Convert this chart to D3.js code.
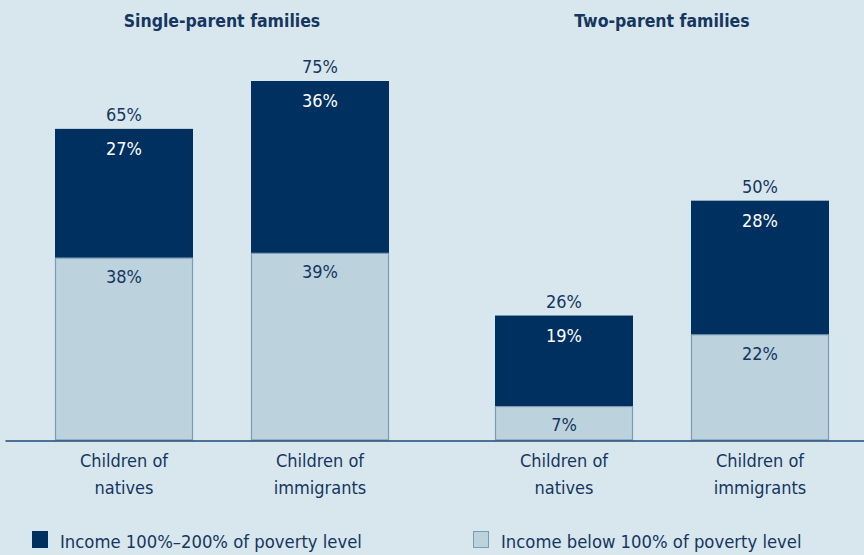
<!DOCTYPE html>
<html><head><meta charset="utf-8">
<script src="https://cdn.jsdelivr.net/npm/d3@7"></script>
<style>
html,body{margin:0;padding:0;background:#d8e6ee;}
svg{display:block;}
text{font-family:"Liberation Sans Narrow","DejaVu Sans Condensed","Roboto Condensed",sans-serif;}
</style></head>
<body><svg id="c" width="864" height="555"></svg>
<script>
const groups = ["Single-parent families", "Two-parent families"];
const categories = ["Children of natives", "Children of immigrants"];
const categoryLines = [["Children of", "natives"], ["Children of", "immigrants"]];
const below100 = [38, 39, 7, 22];      // by bar: single natives, single immigrants, two natives, two immigrants
const from100to200 = [27, 36, 19, 28];
const totals = [65, 75, 26, 50];
const seriesNames = ["Income 100%\u2013200% of poverty level", "Income below 100% of poverty level"];

const svg = d3.select("#c");
const W = 864, H = 555;
svg.append("rect").attr("width", W).attr("height", H).attr("fill", "#d8e6ee");

const dark = "#00305f", light = "#bcd2dd", lightStroke = "#7a9cb4", textCol = "#15365f";

const baseY = 440;
const y = d3.scaleLinear().domain([0, 75]).range([baseY, 81]);

const bars = [];
groups.forEach((g, gi) => categories.forEach((c, ci) => bars.push({g, c, gi, ci, i: gi * 2 + ci})));
const xCenters = [124, 320, 564, 760];
const x = d3.scaleOrdinal().domain(d3.range(4)).range(xCenters);
const bw = 138;

const chart = svg.append("g");

// light (below 100%)
chart.selectAll("rect.low").data(bars).join("rect").attr("class", "low")
  .attr("x", d => x(d.i) - bw / 2 + 0.5).attr("width", bw - 1)
  .attr("y", d => y(below100[d.i])).attr("height", d => baseY - y(below100[d.i]))
  .attr("fill", light).attr("stroke", lightStroke).attr("stroke-width", 1.2);

// dark (100-200%)
chart.selectAll("rect.high").data(bars).join("rect").attr("class", "high")
  .attr("x", d => x(d.i) - bw / 2).attr("width", bw)
  .attr("y", d => y(totals[d.i])).attr("height", d => y(below100[d.i]) - y(totals[d.i]) - 0.5)
  .attr("fill", dark);

// axis line
const xAxis = d3.axisBottom(d3.scaleLinear().domain([0, 1]).range([5, 864])).ticks(0).tickSize(0).tickFormat("");
svg.append("g").attr("transform", `translate(0,${baseY + 0.5})`).call(xAxis)
  .call(g => g.select(".domain").attr("stroke", "#1f4a78").attr("stroke-width", 1.5));

// value labels
const fs = 18;
chart.selectAll("text.tot").data(bars).join("text")
  .attr("x", d => x(d.i)).attr("y", d => y(totals[d.i]) - 8)
  .attr("text-anchor", "middle").attr("font-size", fs).attr("fill", textCol)
  .text(d => totals[d.i] + "%");
chart.selectAll("text.hi").data(bars).join("text")
  .attr("x", d => x(d.i)).attr("y", d => y(totals[d.i]) + 26)
  .attr("text-anchor", "middle").attr("font-size", fs).attr("fill", "#ffffff")
  .text(d => from100to200[d.i] + "%");
chart.selectAll("text.lo").data(bars).join("text")
  .attr("x", d => x(d.i)).attr("y", d => y(below100[d.i]) + 25)
  .attr("text-anchor", "middle").attr("font-size", fs).attr("fill", textCol)
  .text(d => below100[d.i] + "%");

// category labels
bars.forEach(d => {
  const t = chart.append("text").attr("x", x(d.i)).attr("y", 467)
    .attr("text-anchor", "middle").attr("font-size", fs).attr("fill", textCol);
  categoryLines[d.ci].forEach((ln, k) => t.append("tspan").attr("x", x(d.i)).attr("dy", k ? 27 : 0).text(ln));
});

// group titles
groups.forEach((g, gi) => {
  svg.append("text").attr("x", (xCenters[gi * 2] + xCenters[gi * 2 + 1]) / 2).attr("y", 27)
    .attr("text-anchor", "middle").attr("font-size", 17.5).attr("font-weight", "bold")
    .attr("fill", textCol).text(g);
});

// legend
const leg = [{x: 32, fill: dark, stroke: dark, label: seriesNames[0]}, {x: 473, fill: light, stroke: lightStroke, label: seriesNames[1]}];
leg.forEach(l => {
  svg.append("rect").attr("x", l.x + 0.5).attr("y", 531.5).attr("width", 15).attr("height", 16)
    .attr("fill", l.fill).attr("stroke", l.stroke);
  svg.append("text").attr("x", l.x + 28).attr("y", 548).attr("font-size", 18.3).attr("fill", textCol).text(l.label);
});
</script></body></html>
